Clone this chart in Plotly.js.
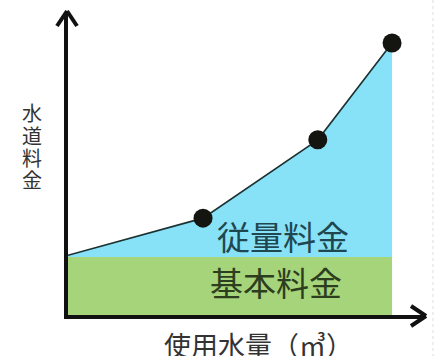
<!DOCTYPE html>
<html><head><meta charset="utf-8">
<script src="https://cdn.plot.ly/plotly-3.0.1.min.js"></script>
<style>html,body{margin:0;padding:0;background:#fff;}#chart{width:436px;height:356px;}</style>
</head><body><div id="chart"></div>
<script>
// water usage (arbitrary units) and water charge (arbitrary units)
const usage = [0, 10, 18.5, 24];
const charge = [10.3, 16.7, 30.2, 46.9];
const baseUsage = [0, 24];
const baseCharge = [10, 10];
const baseLabel = "基本料金";
const volumeLabel = "従量料金";
const xTitle = "使用水量（㎥）";
const yTitleChars = ["水", "道", "料", "金"];

const font = '"Noto Sans CJK JP", "Noto Sans", sans-serif';

const traces = [
  {x: baseUsage, y: baseCharge, type: 'scatter', mode: 'lines', fill: 'tozeroy',
   fillcolor: '#a6d47a', line: {width: 0, color: '#a6d47a'}, hoverinfo: 'skip'},
  {x: usage, y: usage.map(() => baseCharge[0]), type: 'scatter', mode: 'lines',
   line: {width: 0, color: 'rgba(0,0,0,0)'}, hoverinfo: 'skip'},
  {x: usage, y: charge, type: 'scatter', mode: 'lines', fill: 'tonexty',
   fillcolor: '#88e2f7', line: {width: 1.6, color: '#1c3232'}, hoverinfo: 'skip'},
  {x: usage.slice(1), y: charge.slice(1), type: 'scatter', mode: 'markers',
   marker: {size: 19, color: '#141410'}, hoverinfo: 'skip'}
];

const pw = 436 - 68 - 11, ph = 356 - 12 - 41;
function px(x) { return (x - 68) / pw; }
function py(y) { return 1 - (y - 12) / ph; }

const annotations = [
  {x: 15.9, y: 13.7, xref: 'x', yref: 'y', text: volumeLabel, showarrow: false,
   font: {family: font, size: 33, color: '#1f4750'}},
  {x: 15.4, y: 5.7, xref: 'x', yref: 'y', text: baseLabel, showarrow: false,
   font: {family: font, size: 33, color: '#2c3e1e'}},
  {x: px(258), y: py(344), xref: 'paper', yref: 'paper', text: xTitle, showarrow: false,
   xanchor: 'center', yanchor: 'middle',
   font: {family: font, size: 27, color: '#333'}}
];
const yCenters = [112, 135, 157, 179];
yTitleChars.forEach((c, i) => annotations.push({
  x: px(32), y: py(yCenters[i]), xref: 'paper', yref: 'paper', text: c, showarrow: false,
  xanchor: 'center', yanchor: 'middle',
  font: {family: font, size: 20, color: '#333'}
}));

const layout = {
  width: 436, height: 356,
  margin: {l: 68, r: 11, t: 12, b: 41},
  paper_bgcolor: '#ffffff', plot_bgcolor: '#ffffff',
  showlegend: false,
  xaxis: {range: [0, 26.44], showgrid: false, zeroline: false, showticklabels: false,
    ticks: '', showline: true, linecolor: '#111', linewidth: 4},
  yaxis: {range: [0, 52.24], showgrid: false, zeroline: false, showticklabels: false,
    ticks: '', showline: true, linecolor: '#111', linewidth: 4},
  annotations: annotations,
  shapes: [
    {type: 'line', xref: 'paper', yref: 'paper', x0: px(67), y0: py(11), x1: px(57), y1: py(26),
     line: {color: '#111', width: 4}},
    {type: 'line', xref: 'paper', yref: 'paper', x0: px(67), y0: py(11), x1: px(77), y1: py(26),
     line: {color: '#111', width: 4}},
    {type: 'line', xref: 'paper', yref: 'paper', x0: px(426), y0: py(316), x1: px(411), y1: py(306),
     line: {color: '#111', width: 4}},
    {type: 'line', xref: 'paper', yref: 'paper', x0: px(426), y0: py(316), x1: px(411), y1: py(326),
     line: {color: '#111', width: 4}},
    {type: 'line', xref: 'paper', yref: 'paper', x0: px(433), y0: py(0), x1: px(433), y1: py(356),
     line: {color: '#dddddd', width: 1, dash: 'dot'}}
  ]
};

Plotly.newPlot('chart', traces, layout, {staticPlot: true, displayModeBar: false});
</script></body></html>
